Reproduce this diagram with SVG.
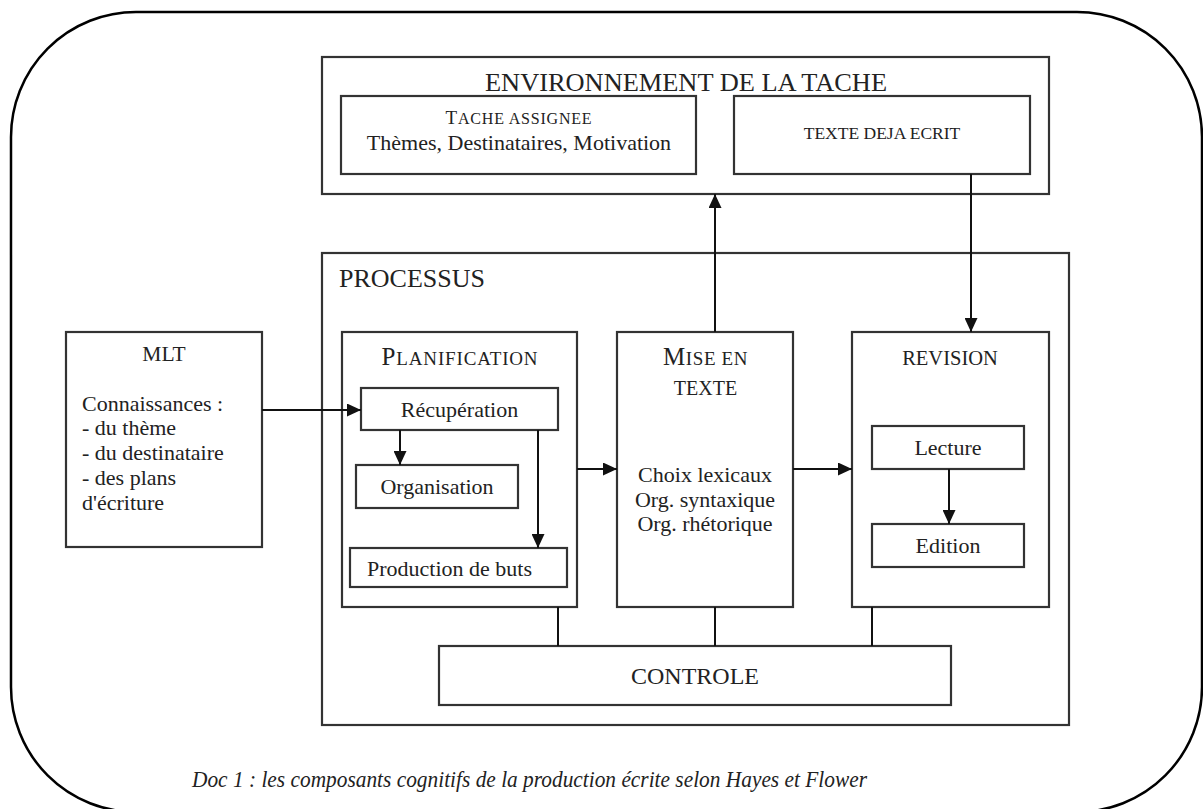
<svg xmlns="http://www.w3.org/2000/svg" width="1203" height="809" viewBox="0 0 1203 809">
<style>
text{font-family:"Liberation Serif","Times New Roman",serif;fill:#222;}
.box{fill:none;stroke:#333;stroke-width:2.2;}
.body{font-size:22px;}
.c{text-anchor:middle;}
.con{fill:none;stroke:#111;stroke-width:2;}
</style>
<defs>
<marker id="ah" markerWidth="14" markerHeight="13" refX="14" refY="6.5" orient="auto" markerUnits="userSpaceOnUse">
<path d="M0,0 L14,6.5 L0,13 z" fill="#111"/>
</marker>
</defs>
<rect x="11" y="12" width="1191" height="800" rx="125" ry="125" fill="#fff" stroke="#000" stroke-width="2.5"/>

<g id="environnement">
<rect class="box" x="322" y="57" width="727" height="137"/>
<text x="686" y="91" class="c" font-size="26" textLength="402" lengthAdjust="spacingAndGlyphs">ENVIRONNEMENT DE LA TACHE</text>
</g>
<g id="tache-assignee">
<rect class="box" x="341" y="96" width="355" height="78"/>
<text x="519" y="124" class="c" letter-spacing="0.8"><tspan font-size="19">T</tspan><tspan font-size="16">ACHE ASSIGNEE</tspan></text>
<text x="519" y="150" class="c body">Thèmes, Destinataires, Motivation</text>
</g>
<g id="texte-deja-ecrit">
<rect class="box" x="734" y="96" width="296" height="78"/>
<text x="882" y="139" class="c" font-size="17.5">TEXTE DEJA ECRIT</text>
</g>

<g id="processus">
<rect class="box" x="322" y="253" width="747" height="472"/>
<text x="339" y="287" font-size="26">PROCESSUS</text>
</g>

<g id="mlt">
<rect class="box" x="66" y="332" width="196" height="215"/>
<text x="164" y="361" class="c" font-size="21.5">MLT</text>
<text x="82" y="411" class="body">Connaissances :</text>
<text x="82" y="435" class="body">- du thème</text>
<text x="82" y="460" class="body">- du destinataire</text>
<text x="82" y="485" class="body">- des plans</text>
<text x="82" y="510" class="body">d'écriture</text>
</g>

<g id="planification">
<rect class="box" x="342" y="332" width="235" height="275"/>
<text x="460" y="365" class="c" letter-spacing="0.85"><tspan font-size="25">P</tspan><tspan font-size="19">LANIFICATION</tspan></text>
</g>
<g id="recuperation">
<rect class="box" x="361" y="388" width="197" height="42"/>
<text x="459.5" y="417" class="c body">Récupération</text>
</g>
<g id="organisation">
<rect class="box" x="356" y="465" width="162" height="43"/>
<text x="437" y="494" class="c body">Organisation</text>
</g>
<g id="production-de-buts">
<rect class="box" x="350" y="548" width="217" height="39"/>
<text x="367" y="576" class="body">Production de buts</text>
</g>

<g id="mise-en-texte">
<rect class="box" x="617" y="332" width="176" height="275"/>
<text x="705.5" y="365" class="c" letter-spacing="0.6"><tspan font-size="25">M</tspan><tspan font-size="19">ISE EN</tspan></text>
<text x="705.5" y="395" class="c" font-size="20">TEXTE</text>
<text x="705" y="482" class="c body">Choix lexicaux</text>
<text x="705" y="506.5" class="c body">Org. syntaxique</text>
<text x="705" y="531" class="c body">Org. rhétorique</text>
</g>

<g id="revision">
<rect class="box" x="852" y="332" width="197" height="275"/>
<text x="950" y="365" class="c" font-size="20.5">REVISION</text>
</g>
<g id="lecture">
<rect class="box" x="872" y="426" width="152" height="43"/>
<text x="948" y="455" class="c body">Lecture</text>
</g>
<g id="edition">
<rect class="box" x="872" y="524" width="152" height="43"/>
<text x="948" y="553" class="c body">Edition</text>
</g>

<g id="controle">
<rect class="box" x="439" y="646" width="512" height="59"/>
<text x="695" y="684" class="c" font-size="24">CONTROLE</text>
</g>

<g id="connectors">
<line class="con" x1="262" y1="410" x2="361" y2="410" marker-end="url(#ah)"/>
<line class="con" x1="400" y1="430" x2="400" y2="465" marker-end="url(#ah)"/>
<line class="con" x1="538" y1="430" x2="538" y2="548" marker-end="url(#ah)"/>
<line class="con" x1="577" y1="469" x2="617" y2="469" marker-end="url(#ah)"/>
<line class="con" x1="793" y1="469" x2="852" y2="469" marker-end="url(#ah)"/>
<line class="con" x1="949" y1="469" x2="949" y2="524" marker-end="url(#ah)"/>
<line class="con" x1="715" y1="332" x2="715" y2="194" marker-end="url(#ah)"/>
<line class="con" x1="971" y1="174" x2="971" y2="332" marker-end="url(#ah)"/>
<line class="con" x1="558" y1="607" x2="558" y2="646"/>
<line class="con" x1="715" y1="607" x2="715" y2="646"/>
<line class="con" x1="872" y1="607" x2="872" y2="646"/>
</g>

<text x="192" y="787" font-size="24" font-style="italic" textLength="675" lengthAdjust="spacingAndGlyphs">Doc 1 : les composants cognitifs de la production écrite selon Hayes et Flower</text>
</svg>
